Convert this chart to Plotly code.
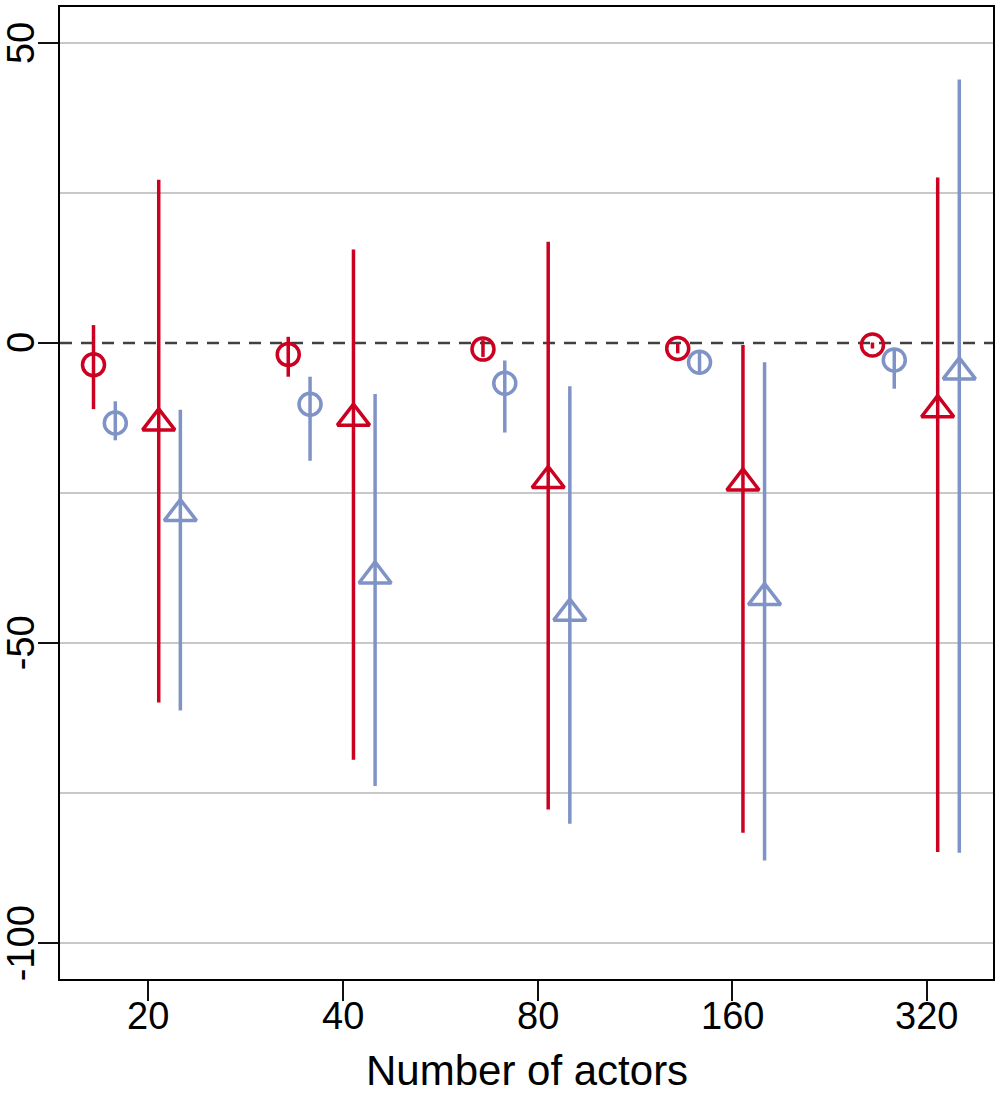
import plotly.graph_objects as go

# Categories (number of actors)
categories = ["20", "40", "80", "160", "320"]

# Series: red circles
red_circle_est = [-3.6, -1.9, -1.0, -0.9, -0.3]
red_circle_lo = [-11.0, -5.6, -2.3, -1.7, -0.9]
red_circle_hi = [3.0, 1.05, 0.5, -0.1, 0.1]

# Series: blue circles
blue_circle_est = [-13.3, -10.2, -6.7, -3.2, -2.8]
blue_circle_lo = [-16.2, -19.6, -14.9, -5.0, -7.6]
blue_circle_hi = [-9.7, -5.6, -2.9, -1.5, -0.9]

# Series: red triangles
red_tri_est = [-13.3, -12.5, -22.9, -23.3, -11.1]
red_tri_lo = [-59.9, -69.4, -77.7, -81.6, -84.8]
red_tri_hi = [27.2, 15.6, 16.9, -0.3, 27.6]

# Series: blue triangles
blue_tri_est = [-28.4, -38.8, -45.0, -42.4, -4.8]
blue_tri_lo = [-61.2, -73.8, -80.1, -86.2, -84.9]
blue_tri_hi = [-11.1, -8.5, -7.2, -3.2, 43.9]

y_tick_vals = [-100, -50, 0, 50]
y_tick_text = ["-100", "-50", "0", "50"]
y_grid_vals = [-100, -75, -50, -25, 25, 50]
x_title = "Number of actors"

RED = "#CC0020"
BLUE = "#7F93C6"
FONT = "Liberation Sans, Arial, sans-serif"

base_x = list(range(1, len(categories) + 1))

series = [
    (red_circle_est, red_circle_lo, red_circle_hi, -0.28, "circle-open", 22, RED),
    (blue_circle_est, blue_circle_lo, blue_circle_hi, -0.168, "circle-open", 22, BLUE),
    (red_tri_est, red_tri_lo, red_tri_hi, 0.055, "triangle-up-open", 28, RED),
    (blue_tri_est, blue_tri_lo, blue_tri_hi, 0.166, "triangle-up-open", 28, BLUE),
]

fig = go.Figure()
for est, lo, hi, off, sym, size, col in series:
    fig.add_trace(go.Scatter(
        x=[b + off for b in base_x],
        y=est,
        mode="markers",
        marker=dict(symbol=sym, size=size, color=col, line=dict(width=3.5, color=col)),
        error_y=dict(
            type="data", symmetric=False,
            array=[h - e for h, e in zip(hi, est)],
            arrayminus=[e - l for e, l in zip(est, lo)],
            width=0, thickness=3.5, color=col,
        ),
        showlegend=False,
        hoverinfo="skip",
    ))

fig.add_shape(type="line", xref="paper", x0=0, x1=1, yref="y", y0=0, y1=0,
              line=dict(color="#404040", width=2.5, dash="12px,9px"), layer="below")

tick_font = dict(size=38, family=FONT, color="black")

# y tick labels: rotated text placed on the y scale
for v, t in zip(y_tick_vals, y_tick_text):
    fig.add_annotation(x=0, xref="paper", xshift=-39, xanchor="center",
                       y=v, yref="y", yanchor="middle", borderpad=0,
                       text=t, textangle=-90, showarrow=False, font=tick_font)

# x tick labels placed on the x scale
for v, t in zip(base_x, categories):
    fig.add_annotation(x=v, xref="x", xanchor="center",
                       y=0, yref="paper", yshift=-37, yanchor="middle",
                       text=t, showarrow=False, font=tick_font)

# x axis title
fig.add_annotation(x=0.5, xref="paper", xanchor="center",
                   y=0, yref="paper", yshift=-91, yanchor="middle",
                   text=x_title, showarrow=False,
                   font=dict(size=42, family=FONT, color="black"))

fig.update_layout(
    width=1000, height=1100,
    margin=dict(l=60, r=7, t=7, b=121, autoexpand=False),
    paper_bgcolor="white", plot_bgcolor="white",
    font=dict(family=FONT, color="black"),
    xaxis=dict(
        range=[0.548, 5.339], automargin=False,
        tickmode="array", tickvals=base_x, showticklabels=False,
        ticks="outside", ticklen=20, tickwidth=2, tickcolor="#111",
        showgrid=False, zeroline=False,
        showline=True, linecolor="black", linewidth=2, mirror=True,
    ),
    yaxis=dict(
        range=[-105.95, 56.0], automargin=False,
        tickmode="array", tickvals=y_tick_vals, showticklabels=False,
        ticks="outside", ticklen=20, tickwidth=2, tickcolor="#111",
        showgrid=False,
        minor=dict(tickmode="array", tickvals=y_grid_vals, showgrid=True,
                   gridcolor="#C8C8C8", gridwidth=2, ticks=""),
        zeroline=False,
        showline=True, linecolor="black", linewidth=2, mirror=True,
    ),
)

fig.write_html("out.html", config={"displayModeBar": False},
               post_script="document.body.style.margin='0';document.body.style.overflow='hidden';")
